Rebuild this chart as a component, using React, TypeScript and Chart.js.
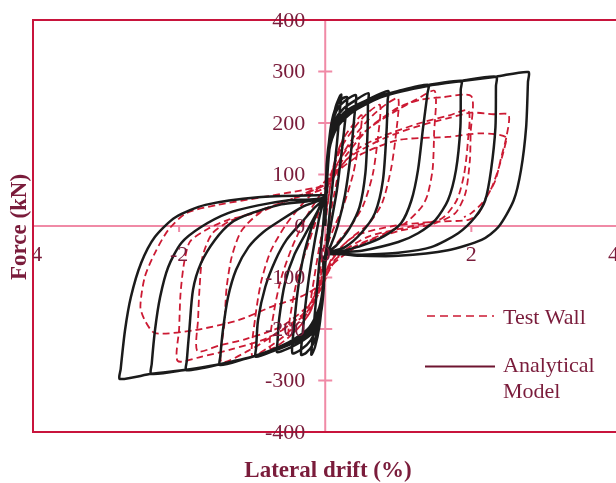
import React, { useEffect, useRef } from 'react';
import { Chart, registerables } from 'chart.js';

Chart.register(...registerables);

// Tick values
const xTicks = [-4, -2, 0, 2, 4];
const yTicks = [-400, -300, -200, -100, 0, 100, 200, 300, 400];

// Analytical model: [lateral drift (%), force (kN)] along the loading path
const modelPath: [number, number][] = [
  [0, 0],
  [0.03, 100], [0.08, 180], [0.14, 230], [0.2, 252], [0.22, 255],
  [0.2, 225], [0.16, 160], [0.1, 80], [0.05, 10], [0.01, -57], [-0.03, -130], [-0.08, -195], [-0.14, -235], [-0.19, -250],
  [-0.17, -215], [-0.13, -150], [-0.08, -70], [-0.03, 0], [0, 57],

  [0.03, 130], [0.08, 195], [0.15, 232], [0.24, 248], [0.3, 250],
  [0.28, 215], [0.23, 150], [0.16, 70], [0.08, 5], [0.02, -45], [0, -57], [-0.03, -130], [-0.09, -195], [-0.17, -230], [-0.26, -246], [-0.33, -250],
  [-0.31, -210], [-0.26, -140], [-0.18, -60], [-0.09, 10], [-0.02, 50], [0, 57],

  [0.03, 135], [0.09, 195], [0.17, 228], [0.3, 246], [0.42, 254],
  [0.4, 215], [0.35, 140], [0.27, 60], [0.17, 0], [0.07, -40], [0, -57], [-0.03, -130], [-0.1, -192], [-0.2, -222], [-0.33, -240], [-0.45, -247],
  [-0.43, -200], [-0.38, -130], [-0.3, -60], [-0.18, 0], [-0.07, 40], [0, 57],

  [0.02, 120], [0.06, 170], [0.13, 205], [0.25, 228], [0.4, 243], [0.59, 258],
  [0.585, 240], [0.58, 186], [0.55, 103], [0.47, 37], [0.33, -5], [0.15, -38], [0, -57], [-0.02, -120], [-0.06, -170], [-0.14, -202], [-0.3, -222], [-0.48, -236], [-0.66, -245],
  [-0.655, -228], [-0.63, -180], [-0.55, -110], [-0.42, -55], [-0.25, -10], [-0.1, 30], [0, 57],

  [0.02, 115], [0.06, 165], [0.14, 200], [0.3, 225], [0.55, 243], [0.86, 262],
  [0.855, 245], [0.84, 186], [0.79, 89], [0.68, 25], [0.49, -14], [0.27, -41], [0, -57], [-0.02, -115], [-0.07, -168], [-0.17, -203], [-0.4, -225], [-0.68, -241], [-0.95, -254],
  [-0.945, -236], [-0.92, -183], [-0.82, -118], [-0.68, -66], [-0.53, -27], [-0.33, 6], [-0.15, 35], [0, 57],

  [0.02, 112], [0.06, 162], [0.15, 198], [0.33, 225], [0.6, 245], [1.0, 262], [1.41, 274],
  [1.4, 258], [1.34, 192], [1.27, 109], [1.18, 50], [1.04, 6], [0.8, -20], [0.5, -38], [0.2, -50], [0, -57], [-0.02, -112], [-0.07, -163], [-0.18, -200], [-0.42, -224], [-0.8, -246], [-1.1, -258], [-1.44, -270],
  [-1.435, -252], [-1.4, -202], [-1.33, -138], [-1.22, -85], [-1.05, -41], [-0.85, -12], [-0.6, 12], [-0.3, 38], [0, 57],

  [0.02, 110], [0.06, 160], [0.16, 197], [0.35, 224], [0.7, 250], [1.2, 268], [1.86, 282],
  [1.855, 265], [1.85, 192], [1.79, 109], [1.68, 50], [1.51, 12], [1.27, -14], [1.0, -31], [0.5, -48], [0, -57], [-0.02, -110], [-0.08, -162], [-0.2, -200], [-0.45, -225], [-0.9, -250], [-1.4, -267], [-1.9, -280],
  [-1.895, -262], [-1.86, -202], [-1.81, -124], [-1.7, -72], [-1.51, -27], [-1.29, 6], [-1.01, 25], [-0.6, 42], [0, 57],

  [0.02, 108], [0.07, 160], [0.17, 196], [0.38, 224], [0.75, 251], [1.3, 270], [1.86, 282], [2.34, 290],
  [2.337, 272], [2.33, 192], [2.27, 109], [2.19, 50], [2.05, 17], [1.82, -14], [1.45, -41], [1.0, -52], [0.5, -56], [0, -57], [-0.02, -108], [-0.08, -160], [-0.21, -198], [-0.48, -225], [-0.95, -252], [-1.45, -269], [-1.9, -279], [-2.38, -287],
  [-2.375, -268], [-2.33, -202], [-2.26, -138], [-2.15, -80], [-1.97, -33], [-1.7, -2], [-1.33, 25], [-0.92, 40], [-0.5, 50], [0, 57],

  [0.02, 106], [0.07, 158], [0.18, 195], [0.4, 224], [0.8, 252], [1.4, 272], [1.9, 282], [2.34, 290], [2.78, 299],
  [2.775, 280], [2.75, 192], [2.68, 109], [2.58, 50], [2.37, -2], [2.14, -27], [1.68, -47], [1.0, -58], [0.5, -58], [0, -57], [-0.02, -106], [-0.08, -158], [-0.22, -197], [-0.5, -226], [-1.0, -254], [-1.5, -270], [-1.9, -279], [-2.38, -287], [-2.81, -297],
  [-2.8, -278], [-2.74, -202], [-2.66, -138], [-2.52, -72], [-2.33, -21], [-2.05, 17], [-1.64, 41], [-0.92, 56], [0, 60],
];

// Test wall: [lateral drift (%), force (kN)] along the loading path
const testPath: [number, number][] = [
  [0, 0],
  [0.05, 60], [0.12, 120], [0.2, 155], [0.25, 170],
  [0.2, 120], [0.12, 60], [0.04, 0], [-0.03, -50], [-0.1, -110], [-0.2, -150],
  [-0.15, -100], [-0.08, -40], [0, 20], [0.05, 60],

  [0.12, 120], [0.25, 170], [0.4, 200], [0.5, 215],
  [0.46, 160], [0.38, 100], [0.25, 40], [0.1, -10], [0, -50], [-0.08, -110], [-0.2, -165], [-0.35, -195], [-0.5, -212],
  [-0.45, -150], [-0.36, -90], [-0.22, -30], [-0.08, 30], [0.02, 70],

  [0.1, 110], [0.25, 160], [0.45, 200], [0.6, 222], [0.75, 235],
  [0.72, 170], [0.65, 100], [0.52, 40], [0.35, 0], [0.15, -35], [0, -70], [-0.08, -120], [-0.22, -170], [-0.45, -210], [-0.75, -238],
  [-0.7, -165], [-0.6, -100], [-0.45, -40], [-0.25, 20], [-0.05, 65], [0.05, 85],

  [0.2, 130], [0.4, 175], [0.65, 215], [0.85, 238], [1.0, 248],
  [0.97, 180], [0.9, 110], [0.78, 45], [0.6, 5], [0.3, -30], [0.05, -75], [-0.05, -120], [-0.25, -170], [-0.55, -212], [-0.8, -238], [-1.0, -252],
  [-0.96, -180], [-0.88, -110], [-0.75, -50], [-0.55, 0], [-0.3, 45], [-0.05, 80], [0.05, 95],

  [0.3, 150], [0.6, 190], [0.95, 222], [1.25, 246], [1.5, 262],
  [1.49, 180], [1.47, 110], [1.4, 60], [1.32, 37], [1.1, 6], [0.8, -15], [0.4, -40], [0.1, -70], [-0.05, -110], [-0.3, -170], [-0.7, -212], [-1.05, -242], [-1.42, -264],
  [-1.38, -190], [-1.35, -120], [-1.28, -60], [-1.15, -10], [-0.9, 25], [-0.5, 50], [-0.1, 75], [0.05, 90],

  [0.3, 140], [0.6, 190], [1.0, 230], [1.3, 245], [1.6, 250], [2.0, 252],
  [1.99, 180], [1.98, 128], [1.92, 64], [1.78, 25], [1.5, 5], [1.0, -10], [0.5, -35], [0.1, -75], [-0.05, -120], [-0.3, -175], [-0.8, -218], [-1.3, -240], [-1.7, -254], [-2.02, -262],
  [-2.0, -200], [-1.98, -130], [-1.93, -70], [-1.85, -30], [-1.6, -5], [-1.33, 12], [-0.96, 25], [-0.5, 50], [0, 80], [0.05, 90],

  [0.45, 150], [0.8, 175], [1.3, 200], [1.7, 215], [1.96, 224],
  [1.95, 160], [1.9, 100], [1.8, 50], [1.6, 15], [1.2, 0], [0.6, -20], [0.2, -55], [0, -100], [-0.2, -150], [-0.6, -195], [-1.1, -220], [-1.45, -232], [-1.75, -243],
  [-1.74, -180], [-1.72, -120], [-1.68, -60], [-1.55, -15], [-1.3, 10], [-0.9, 30], [-0.4, 55], [0, 75],

  [0.3, 130], [0.8, 170], [1.3, 195], [1.7, 210], [2.0, 220], [2.3, 217], [2.51, 216],
  [2.48, 173], [2.41, 134], [2.33, 89], [2.21, 56], [2.1, 25], [1.96, 12], [1.47, 8], [0.93, 0], [0.4, -20], [0.1, -60], [-0.05, -110], [-0.3, -135], [-0.74, -157], [-1.19, -183], [-1.78, -202], [-2.33, -208],
  [-2.47, -183], [-2.53, -157], [-2.47, -99], [-2.33, -52], [-2.15, -8], [-1.9, 25], [-1.47, 41], [-0.9, 55], [-0.3, 70], [0, 80],

  [0.2, 110], [0.5, 140], [1.0, 167], [1.68, 173], [2.14, 180], [2.47, 173],
  [2.45, 150], [2.38, 115], [2.28, 75], [2.15, 45], [2.0, 25], [1.9, 17],
];

const seriesLabels = ['Analytical Model', 'Test Wall'];

const FONT = '"Liberation Serif", "Times New Roman", serif';
const TEXT = '#7a1c3b';
const FRAME = '#c8143c';
const AXIS = '#f08aa6';
const RED = '#cc1a33';
const BLACK = '#1b1b1b';

const overlay = {
  id: 'overlay',
  beforeDatasetsDraw(chart: any) {
    const { ctx, chartArea: a, scales } = chart;
    const x = scales.x, y = scales.y;
    const x0 = x.getPixelForValue(0);
    const y0 = y.getPixelForValue(0);
    ctx.save();
    ctx.strokeStyle = AXIS;
    ctx.lineWidth = 2;
    ctx.beginPath();
    ctx.moveTo(a.left, y0);
    ctx.lineTo(a.right, y0);
    ctx.moveTo(x0, a.top);
    ctx.lineTo(x0, a.bottom);
    yTicks.forEach((v) => {
      const py = y.getPixelForValue(v);
      ctx.moveTo(x0 - 7, py);
      ctx.lineTo(x0 + 7, py);
    });
    xTicks.forEach((v) => {
      if (v === 0) return;
      const px = x.getPixelForValue(v);
      ctx.moveTo(px, y0);
      ctx.lineTo(px, y0 + 6);
    });
    ctx.stroke();
    ctx.strokeStyle = FRAME;
    ctx.lineWidth = 2;
    ctx.strokeRect(a.left, a.top, a.right - a.left + 20, a.bottom - a.top);
    ctx.restore();
  },
  afterDatasetsDraw(chart: any) {
    const { ctx, chartArea: a, scales } = chart;
    const x = scales.x, y = scales.y;
    const x0 = x.getPixelForValue(0);
    const y0 = y.getPixelForValue(0);
    ctx.save();
    ctx.fillStyle = TEXT;
    ctx.font = `22px ${FONT}`;
    // y tick labels
    ctx.textAlign = 'right';
    ctx.textBaseline = 'middle';
    yTicks.forEach((v) => {
      ctx.fillText(String(v), x0 - 20, y.getPixelForValue(v) + 1);
    });
    // x tick labels (clipped at left frame)
    ctx.save();
    ctx.beginPath();
    ctx.rect(a.left, 0, 1000, 1000);
    ctx.clip();
    ctx.textAlign = 'center';
    xTicks.forEach((v) => {
      ctx.fillText(String(v), x.getPixelForValue(v) - (v === 4 ? 4 : 0), y0 + 29);
    });
    ctx.restore();

    // axis titles
    ctx.font = `bold 23px ${FONT}`;
    ctx.textAlign = 'center';
    ctx.fillText('Lateral drift (%)', 328, 471);
    ctx.save();
    ctx.translate(20, 227);
    ctx.rotate(-Math.PI / 2);
    ctx.fillText('Force (kN)', 0, 0);
    ctx.restore();

    // legend
    ctx.lineWidth = 1.6;
    ctx.strokeStyle = RED;
    ctx.setLineDash([8, 5]);
    ctx.beginPath();
    ctx.moveTo(427, 316);
    ctx.lineTo(494, 316);
    ctx.stroke();
    ctx.setLineDash([]);
    ctx.strokeStyle = '#6e1530';
    ctx.lineWidth = 2;
    ctx.beginPath();
    ctx.moveTo(425, 366.5);
    ctx.lineTo(495, 366.5);
    ctx.stroke();
    ctx.font = `22px ${FONT}`;
    ctx.textAlign = 'left';
    ctx.textBaseline = 'middle';
    ctx.fillText(seriesLabels[1], 503, 318);
    ctx.fillText('Analytical', 503, 366);
    ctx.fillText('Model', 503, 392);
    ctx.restore();
  },
};

export default function App() {
  const ref = useRef<HTMLCanvasElement | null>(null);
  useEffect(() => {
    document.body.style.margin = '0';
    document.body.style.overflow = 'hidden';
    const canvas = ref.current;
    if (!canvas) return;
    const chart = new Chart(canvas, {
      type: 'scatter',
      data: {
        datasets: [
          {
            label: seriesLabels[0],
            data: modelPath.map(([d, f]) => ({ x: d, y: f })),
            showLine: true,
            borderColor: BLACK,
            borderWidth: 2.5,
            pointRadius: 0,
            tension: 0.25,
            fill: false,
          },
          {
            label: seriesLabels[1],
            data: testPath.map(([d, f]) => ({ x: d, y: f })),
            showLine: true,
            borderColor: RED,
            borderWidth: 1.8,
            borderDash: [7, 4],
            pointRadius: 0,
            tension: 0.25,
            fill: false,
          },
        ],
      },
      options: {
        responsive: false,
        animation: false,
        layout: { padding: { left: 33, top: 20, right: 0, bottom: 51 } },
        plugins: { legend: { display: false }, tooltip: { enabled: false } },
        scales: {
          x: { type: 'linear', min: -4, max: 3.98, display: false },
          y: { type: 'linear', min: -400, max: 400, display: false },
        },
      },
      plugins: [overlay],
    });
    return () => chart.destroy();
  }, []);
  return (
    <div style={{ width: 616, height: 483, background: '#fff' }}>
      <canvas ref={ref} width={616} height={483} style={{ display: 'block' }} />
    </div>
  );
}
